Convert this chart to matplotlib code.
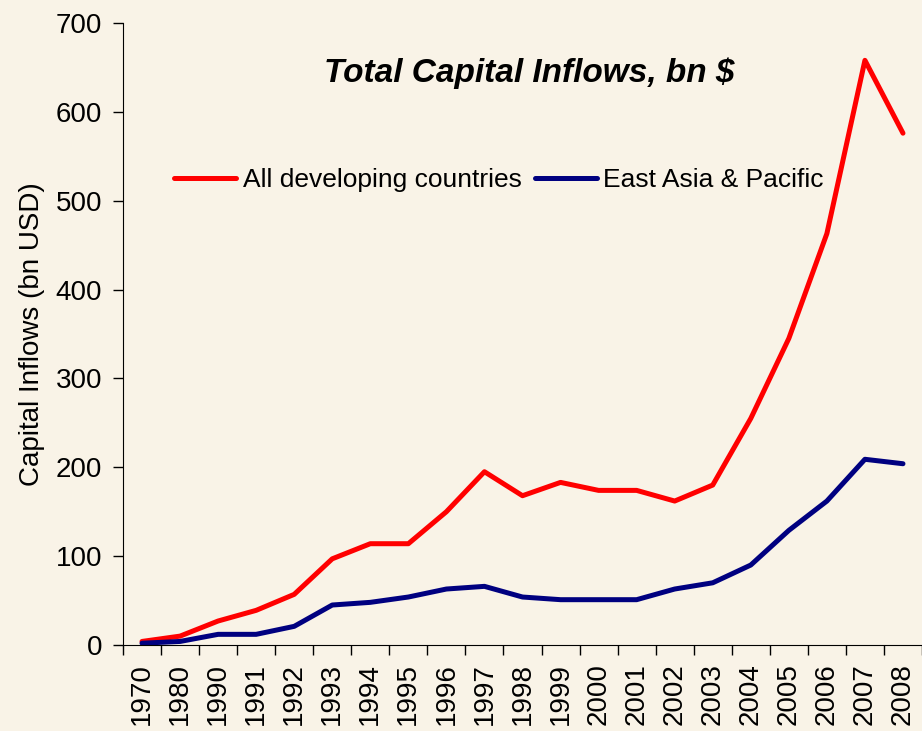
import numpy as np
import matplotlib
matplotlib.use("Agg")
import matplotlib.pyplot as plt

years = ["1970", "1980", "1990", "1991", "1992", "1993", "1994", "1995", "1996", "1997",
         "1998", "1999", "2000", "2001", "2002", "2003", "2004", "2005", "2006", "2007", "2008"]
all_developing = [4, 10, 27, 39, 57, 97, 114, 114, 150, 195,
                  168, 183, 174, 174, 162, 180, 255, 345, 463, 658, 576]
east_asia = [2, 4, 12, 12, 21, 45, 48, 54, 63, 66,
             54, 51, 51, 51, 63, 70, 90, 129, 162, 209, 204]

bg = "#F9F3E7"
plt.rcParams["font.family"] = ["Liberation Sans", "DejaVu Sans"]

fig = plt.figure(figsize=(9.22, 7.31), dpi=100, facecolor=bg)
ax = fig.add_axes([123 / 922, 86 / 731, 799 / 922, 622 / 731], facecolor=bg)

x = np.arange(len(years))
ax.plot(x, all_developing, color="#FF0000", lw=3.6, label="All developing countries",
        solid_joinstyle="round", solid_capstyle="round")
ax.plot(x, east_asia, color="#000080", lw=3.6, label="East Asia & Pacific",
        solid_joinstyle="round", solid_capstyle="round")

ax.set_xlim(-0.5, len(years) - 0.5)
ax.set_ylim(0, 700)
ax.set_yticks(range(0, 701, 100))
ax.set_xticks(x)
ax.set_xticklabels(years, rotation=90, fontsize=20)
ax.set_xticks(np.arange(-0.5, len(years), 1), minor=True)
ax.tick_params(axis="x", which="major", length=0, pad=13)
ax.tick_params(axis="x", which="minor", length=7, width=1)
ax.tick_params(axis="y", length=7, width=1, labelsize=20, pad=8)
for s in ["top", "right"]:
    ax.spines[s].set_visible(False)

ax.set_ylabel("Capital Inflows (bn USD)", fontsize=20, labelpad=8)
ax.text(0.5088, 0.9196, "Total Capital Inflows, bn $", transform=ax.transAxes,
        ha="center", va="center", fontsize=24, fontweight="bold", fontstyle="italic")
ax.legend(loc="center", bbox_to_anchor=(0.4706, 0.7476), ncol=2, frameon=False,
          fontsize=19, handlelength=2.35, handletextpad=0.25, columnspacing=0.5)

fig.savefig("out.png", dpi=100, facecolor=bg)
